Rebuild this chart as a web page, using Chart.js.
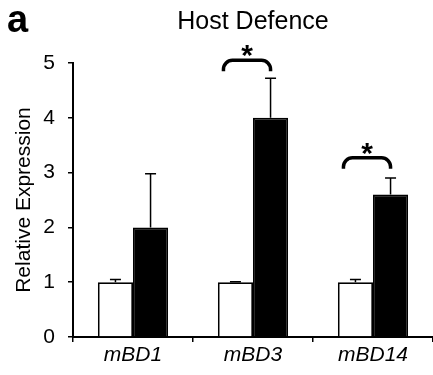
<!DOCTYPE html>
<html>
<head>
<meta charset="utf-8">
<script src="https://cdn.jsdelivr.net/npm/chart.js@4"></script>
<style>
	body { margin: 0; background: #fff; }
	canvas { display: block; }
</style>
</head>
<body>
<canvas id="chart_host" width="433" height="375"></canvas>
<script>
const categories = ['mBD1', 'mBD3', 'mBD14'];
const controlMean = [1, 1, 1];
const controlErr = [0.05, 0.01, 0.05];
const treatedMean = [2, 4, 2.6];
const treatedErr = [0.98, 0.72, 0.3];
// bracket height (in y units) for significant pairs, null = none
const sigLevel = [null, 5.05, 3.27];
const yTicks = [0, 1, 2, 3, 4, 5];

const fontFam = "'Liberation Sans', Arial, sans-serif";

// error bars (upper only) drawn off the bar elements
const errorBars = {
	id: 'errorBars',
	afterDatasetsDraw(chart) {
		const ctx = chart.ctx;
		const y = chart.scales.y;
		const errs = [controlErr, treatedErr];
		ctx.save();
		ctx.strokeStyle = '#000';
		ctx.lineWidth = 1.5;
		chart.data.datasets.forEach((ds, i) => {
			chart.getDatasetMeta(i).data.forEach((bar, j) => {
				const top = y.getPixelForValue(ds.data[j] + errs[i][j]);
				ctx.beginPath();
				ctx.moveTo(bar.x, bar.y);
				ctx.lineTo(bar.x, top);
				ctx.moveTo(bar.x - 5.5, top);
				ctx.lineTo(bar.x + 5.5, top);
				ctx.stroke();
			});
		});
		ctx.restore();
	},
};

// significance brackets + stars, panel letter
const sigMarks = {
	id: 'sigMarks',
	afterDraw(chart) {
		const ctx = chart.ctx;
		const y = chart.scales.y;
		const m0 = chart.getDatasetMeta(0).data;
		const m1 = chart.getDatasetMeta(1).data;
		ctx.save();
		ctx.strokeStyle = '#000';
		ctx.fillStyle = '#000';
		ctx.lineWidth = 3.5;
		sigLevel.forEach((lvl, j) => {
			if (lvl == null) return;
			const x1 = m0[j].x - 12;
			const x2 = m1[j].x;
			const yt = y.getPixelForValue(lvl);
			const yb = yt + 11;
			const r = 9;
			ctx.beginPath();
			ctx.moveTo(x1, yb);
			ctx.arcTo(x1, yt, x1 + r, yt, r);
			ctx.lineTo(x2 - r, yt);
			ctx.arcTo(x2, yt, x2, yt + r, r);
			ctx.lineTo(x2, yb);
			ctx.stroke();
			ctx.font = 'bold 30px ' + fontFam;
			ctx.textAlign = 'center';
			ctx.textBaseline = 'alphabetic';
			ctx.fillText('*', (x1 + x2) / 2, yt - 12 + 30 * 0.57);
		});
		ctx.font = 'bold 38px ' + fontFam;
		ctx.textAlign = 'left';
		ctx.textBaseline = 'alphabetic';
		ctx.fillText('a', 7, 32);
		ctx.restore();
	},
};

const host = document.getElementById('chart_host');

const dataHost = {
	labels: categories,
	datasets: [
		{
			label: 'Control',
			data: controlMean,
			backgroundColor: '#fff',
			borderColor: '#000',
			borderWidth: 1.8,
			categoryPercentage: 0.585,
			barPercentage: 1,
		},
		{
			label: 'Treated',
			data: treatedMean,
			backgroundColor: '#000',
			borderColor: '#000',
			borderWidth: 1.8,
			categoryPercentage: 0.585,
			barPercentage: 1,
		},
	],
};

const chartHost = new Chart(host, {
	type: 'bar',
	data: dataHost,
	plugins: [errorBars, sigMarks],
	options: {
		responsive: false,
		animation: false,
		layout: { padding: 0 },
		plugins: {
			legend: { display: false },
			tooltip: { enabled: false },
			title: {
				display: true,
				text: 'Host Defence',
				fullSize: false,
				color: '#000',
				font: { family: fontFam, size: 25, weight: 'normal' },
				padding: { top: 7, bottom: 26 },
			},
		},
		scales: {
			x: {
				grid: {
					display: true,
					drawOnChartArea: false,
					offset: true,
					tickLength: 5,
					color: '#000',
					lineWidth: 1.5,
				},
				border: { color: '#000', width: 2 },
				ticks: {
					color: '#000',
					padding: 1,
					font: { family: fontFam, size: 21, style: 'italic' },
				},
				afterFit: scale => {
					scale.height = 38;
				},
			},
			y: {
				min: 0,
				max: 5,
				afterBuildTicks: scale => {
					scale.ticks = yTicks.map(v => ({ value: v }));
				},
				grid: {
					display: true,
					drawOnChartArea: false,
					tickLength: 5,
					color: '#000',
					lineWidth: 1.5,
				},
				border: { color: '#000', width: 2 },
				ticks: {
					color: '#000',
					padding: 13,
					font: { family: fontFam, size: 21 },
				},
				title: {
					display: true,
					text: 'Relative Expression',
					color: '#000',
					font: { family: fontFam, size: 21 },
					padding: { top: 12, bottom: 0 },
				},
				afterFit: scale => {
					scale.width = 73;
				},
			},
		},
	},
});
</script>
</body>
</html>
